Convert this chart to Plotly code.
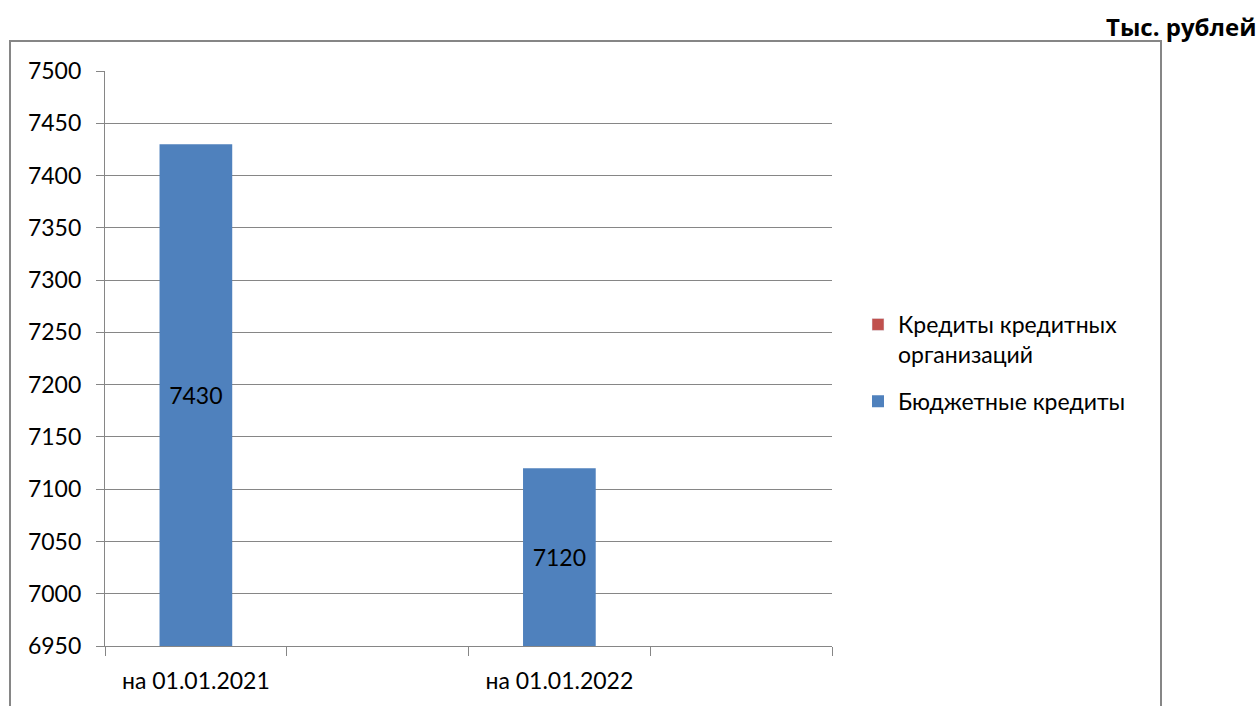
import plotly.graph_objects as go

categories = ["на 01.01.2021", " ", "на 01.01.2022", "  "]
credit_org = [None, None, None, None]
budget = [7430, None, 7120, None]
budget_labels = ["7430", "", "7120", ""]
series_names = ["Кредиты кредитных<br>организаций", "Бюджетные кредиты"]
unit_title = "Тыс. рублей"
Y_MIN, Y_MAX, Y_STEP = 6950, 7500, 50

FONT = "Lato"
FS = 23
GRAY = "#868686"

budget_h = [None if v is None else v - Y_MIN for v in budget]
credit_h = [None if v is None else v - Y_MIN for v in credit_org]

fig = go.Figure()
fig.add_trace(go.Bar(x=categories, y=credit_h, base=Y_MIN, name=series_names[0],
                     legendgroup="a", marker=dict(color="#C0504D")))
fig.add_trace(go.Bar(x=categories, y=budget_h, base=Y_MIN, name=series_names[1],
                     legendgroup="b",
                     marker=dict(color="#4F81BD", line=dict(width=0)),
                     text=budget_labels, textposition="inside",
                     insidetextanchor="middle", textangle=0,
                     textfont=dict(color="black", size=FS, family=FONT)))

L, R, T, B = 105, 832, 71, 646
W, H = 1260, 706
pw, ph = R - L, B - T

def px(x):
    return (x - L) / pw

def py(y):
    return (B - y) / ph

fig.update_layout(
    width=W, height=H,
    margin=dict(l=L, r=W - R, t=T, b=H - B, pad=0),
    paper_bgcolor="white", plot_bgcolor="white",
    barmode="overlay", bargap=0.6,
    font=dict(family=FONT, size=FS, color="black"),
    showlegend=True,
    legend=dict(x=px(858), y=py(303), xanchor="left", yanchor="top",
                traceorder="grouped", valign="top",
                font=dict(family=FONT, size=FS, color="black"),
                itemwidth=30, tracegroupgap=14,
                bgcolor="rgba(0,0,0,0)"),
    xaxis=dict(type="category", tickson="boundaries", ticks="outside",
               ticklen=9, tickcolor=GRAY, tickwidth=1.3,
               showline=True, linecolor=GRAY, linewidth=1.3,
               showgrid=False, range=[-0.5, 3.5], ticklabelstandoff=14,
               tickfont=dict(family=FONT, size=FS, color="black")),
    yaxis=dict(range=[Y_MIN, Y_MAX], dtick=Y_STEP, tick0=Y_MIN,
               ticks="outside", ticklen=8, tickcolor=GRAY, tickwidth=1.3,
               showline=True, linecolor=GRAY, linewidth=1.3,
               showgrid=True, gridcolor=GRAY, gridwidth=1.3,
               zeroline=False, ticklabelstandoff=10,
               tickfont=dict(family=FONT, size=FS, color="black")),
    shapes=[dict(type="rect", xref="paper", yref="paper",
                 x0=px(10), x1=px(1161), y0=py(720), y1=py(41),
                 line=dict(color=GRAY, width=2), fillcolor="rgba(0,0,0,0)",
                 layer="below")],
    annotations=[dict(text="<b>" + unit_title + "</b>", xref="paper", yref="paper",
                      x=px(1258), y=py(26), xanchor="right", yanchor="middle",
                      showarrow=False,
                      font=dict(family="Open Sans", size=24, color="black"))],
)

fig.write_html("out.html", config={"displayModeBar": False},
               post_script="document.body.style.margin='0';document.body.style.overflow='hidden';")
